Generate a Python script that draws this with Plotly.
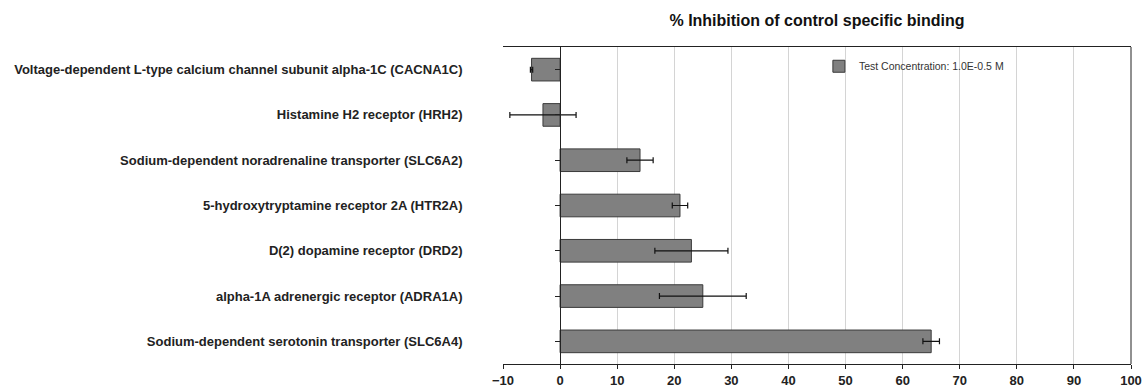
import plotly.graph_objects as go

categories = [
    "Voltage-dependent L-type calcium channel subunit alpha-1C (CACNA1C)",
    "Histamine H2 receptor (HRH2)",
    "Sodium-dependent noradrenaline transporter (SLC6A2)",
    "5-hydroxytryptamine receptor 2A (HTR2A)",
    "D(2) dopamine receptor (DRD2)",
    "alpha-1A adrenergic receptor (ADRA1A)",
    "Sodium-dependent serotonin transporter (SLC6A4)",
]
inhibition = [-5.0, -3.0, 14.0, 21.0, 23.0, 25.0, 65.0]
errors = [0.2, 5.8, 2.3, 1.35, 6.4, 7.6, 1.45]
series_name = "Test Concentration: 1.0E-0.5 M"
title_text = "% Inhibition of control specific binding"
x_ticks = [-10, 0, 10, 20, 30, 40, 50, 60, 70, 80, 90, 100]

xmin, xmax = -10, 100
FONT = "Liberation Sans, Arial, sans-serif"

fig = go.Figure()
fig.add_trace(go.Bar(
    x=inhibition, y=categories, orientation="h",
    name=series_name,
    width=0.5,
    marker=dict(color="#808080", line=dict(color="#3a3a3a", width=1)),
    error_x=dict(type="data", array=errors, visible=True,
                 color="#111111", thickness=1.2, width=3),
))

fig.update_layout(
    width=1142, height=389,
    margin=dict(l=503, r=11, t=47, b=25, autoexpand=False),
    plot_bgcolor="white", paper_bgcolor="white",
    font=dict(family=FONT, color="#222222"),
    title=dict(text=title_text, x=0.5, xref="paper", xanchor="center",
               y=1 - 20 / 389, yref="container", yanchor="middle",
               font=dict(size=16, family=FONT, weight="bold", color="#111111")),
    showlegend=True,
    legend=dict(x=0.503, y=0.985, xanchor="left", yanchor="top",
                bgcolor="rgba(255,255,255,0)", borderwidth=0,
                itemwidth=30,
                font=dict(size=10.5, family=FONT, color="#333333")),
    bargap=0.5,
)

fig.update_xaxes(
    range=[xmin, xmax], tickvals=x_ticks,
    showgrid=True, gridcolor="#d4d4d4", gridwidth=1,
    zeroline=False,
    showline=True, linecolor="#222222", linewidth=1, mirror=True,
    ticks="outside", ticklen=4, tickcolor="#222222",
    tickfont=dict(size=13, family=FONT, weight="bold", color="#222222"),
    automargin=False,
    fixedrange=True,
)

fig.update_yaxes(
    type="category", categoryorder="array", categoryarray=categories,
    autorange="reversed",
    anchor="free", position=(0 - xmin) / (xmax - xmin),
    showline=True, linecolor="#222222", linewidth=1,
    ticks="outside", ticklen=5, tickcolor="#222222",
    ticklabelstandoff=90,
    showgrid=False,
    tickfont=dict(size=13, family=FONT, weight="bold", color="#222222"),
    automargin=False,
    fixedrange=True,
)

fig.add_shape(type="line", xref="paper", yref="paper", x0=1, x1=1, y0=0, y1=1,
              line=dict(color="#222222", width=1))

fig.write_html("out.html",
               config={"displayModeBar": False},
               post_script="document.body.style.margin='0';document.body.style.overflow='hidden';")
